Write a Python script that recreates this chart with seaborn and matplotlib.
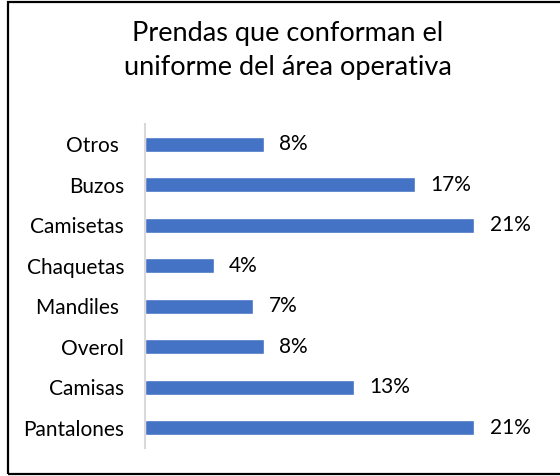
import matplotlib
matplotlib.use("Agg")
import matplotlib.pyplot as plt
import seaborn as sns
import pandas as pd
from matplotlib.patches import Rectangle

categories = ["Otros ", "Buzos", "Camisetas", "Chaquetas", "Mandiles ", "Overol", "Camisas", "Pantalones"]
values = [7.6, 17.2, 21.0, 4.4, 6.9, 7.6, 13.3, 21.0]
title = "Prendas que conforman el\nuniforme del área operativa"

sns.set_theme(style="white")
plt.rcParams['font.family'] = ['Lato', 'DejaVu Sans']

df = pd.DataFrame({"cat": categories, "val": values})

fig = plt.figure(figsize=(5.6, 4.76), dpi=100)
ax = fig.add_axes([145/560, 1-448/476, (537-145)/560, (448-124)/476])
sns.barplot(data=df, x="val", y="cat", orient="h", color="#4472C4",
            width=0.38, saturation=1, ax=ax)
ax.set_xlim(0, 25)
ax.set_xlabel("")
ax.set_ylabel("")
ax.set_xticks([])
for s in ["top", "right", "bottom"]:
    ax.spines[s].set_visible(False)
ax.spines["left"].set_color("#d9d9d9")
ax.spines["left"].set_linewidth(1.5)
ax.tick_params(axis="y", length=0, pad=15, labelsize=15, labelcolor="black")
for c in ax.containers:
    ax.bar_label(c, labels=[f"{v:.0f}%" for v in values], padding=11, fontsize=15, color="black")

fig.text(287.5/560, 1-51/476, title, ha="center", va="center", fontsize=19.5,
         color="black", linespacing=1.45)

fig.patches.append(Rectangle((7.5/560, 2.5/476), 1.2, (474.5-2.5)/476,
                             transform=fig.transFigure, fill=False,
                             edgecolor="black", linewidth=1.6, clip_on=False))
fig.savefig("out.png", dpi=100)
